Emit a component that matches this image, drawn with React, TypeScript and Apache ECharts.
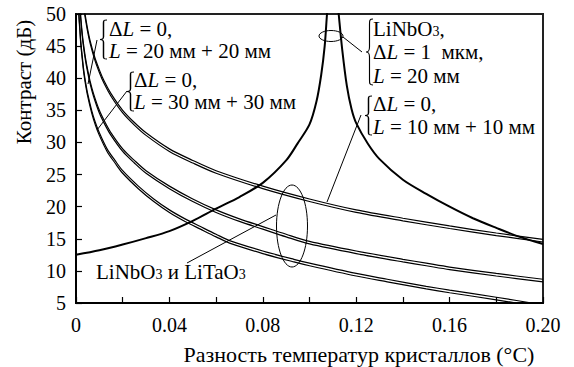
import React, { useEffect, useRef } from "react";
import * as echarts from "echarts";

const FONT = "'Liberation Serif', 'Times New Roman', Times, 'DejaVu Serif', serif";

// Tick labels
const xTickLabels = ["0", "0.04", "0.08", "0.12", "0.16", "0.20"];
const yTickLabels = ["5", "10", "15", "20", "25", "30", "35", "40", "45", "50"];

// ΔL = 0, L = 10 мм + 10 мм (LiNbO3 / LiTaO3)
const x1 = [0.0035, 0.004, 0.005, 0.006, 0.008, 0.01, 0.012, 0.015, 0.02, 0.025, 0.03, 0.04, 0.05, 0.06, 0.08, 0.1, 0.12, 0.14, 0.16, 0.18, 0.2];
const nb1 = [50.9, 49.7, 47.6, 45.9, 43.3, 41.3, 39.6, 37.6, 35.0, 33.1, 31.5, 29.0, 27.2, 25.6, 23.2, 21.2, 19.5, 18.2, 17.0, 15.9, 14.9];
const ta1 = [50.5, 49.3, 47.2, 45.5, 42.9, 40.9, 39.2, 37.2, 34.6, 32.7, 31.1, 28.6, 26.8, 25.2, 22.8, 20.8, 19.1, 17.8, 16.6, 15.5, 14.5];

// ΔL = 0, L = 20 мм + 20 мм
const x2 = [0.00175, 0.002, 0.0025, 0.003, 0.004, 0.005, 0.006, 0.0075, 0.01, 0.0125, 0.015, 0.02, 0.025, 0.03, 0.04, 0.05, 0.06, 0.07, 0.08, 0.09, 0.1, 0.12, 0.14, 0.15, 0.16, 0.18, 0.2];
const nb2 = [50.9, 49.7, 47.6, 45.9, 43.3, 41.3, 39.6, 37.6, 35.0, 33.1, 31.5, 29.0, 27.2, 25.6, 23.2, 21.2, 19.5, 18.1, 16.9, 15.7, 14.6, 13.1, 11.8, 11.2, 10.6, 9.6, 8.7];
const ta2 = [50.5, 49.3, 47.2, 45.5, 42.9, 40.9, 39.2, 37.2, 34.6, 32.7, 31.1, 28.6, 26.8, 25.2, 22.8, 20.8, 19.1, 17.7, 16.5, 15.3, 14.2, 12.7, 11.4, 10.8, 10.2, 9.2, 8.3];

// ΔL = 0, L = 30 мм + 30 мм
const x3 = [0.0012, 0.0013, 0.0017, 0.002, 0.0027, 0.0033, 0.004, 0.005, 0.0067, 0.0083, 0.01, 0.0133, 0.0167, 0.02, 0.0267, 0.0333, 0.04, 0.0467, 0.0533, 0.06, 0.0667, 0.08, 0.0933, 0.1, 0.12, 0.1333, 0.15, 0.16, 0.18, 0.2];
const nb3 = [50.9, 49.7, 47.6, 45.9, 43.3, 41.3, 39.6, 37.6, 35.0, 33.1, 31.5, 29.0, 27.2, 25.6, 23.2, 21.2, 19.5, 18.1, 16.9, 15.7, 14.6, 13.1, 11.8, 11.2, 9.6, 8.7, 7.6, 7.0, 5.9, 4.7];
const ta3 = [50.5, 49.3, 47.2, 45.5, 42.9, 40.9, 39.2, 37.2, 34.6, 32.7, 31.1, 28.6, 26.8, 25.2, 22.8, 20.8, 19.1, 17.7, 16.5, 15.3, 14.2, 12.7, 11.4, 10.8, 9.2, 8.3, 7.2, 6.6, 5.5, 4.3];

// LiNbO3, ΔL = 1 мкм, L = 20 мм (resonance peak)
const peakLeftX = [0, 0.01, 0.02, 0.03, 0.04, 0.05, 0.06, 0.07, 0.08, 0.09, 0.095, 0.1, 0.103, 0.105, 0.1065, 0.1075, 0.108];
const peakLeftY = [12.5, 13.2, 14.1, 15.1, 16.2, 17.8, 19.7, 21.5, 23.7, 27.2, 29.9, 32.8, 36.4, 40.5, 45, 50, 52];
const peakRightX = [0.112, 0.1125, 0.114, 0.116, 0.118, 0.12, 0.125, 0.13, 0.14, 0.15, 0.16, 0.17, 0.18, 0.19, 0.2];
const peakRightY = [52, 50, 44.5, 38.8, 35.2, 33.0, 29.8, 27.4, 24.2, 22.0, 20.0, 18.2, 16.7, 15.3, 14.2];

const zip = (xs: number[], ys: number[]) => xs.map((x, i) => [x, ys[i]]);

const BRACE_D =
  "M10,0 C5,0 5,2 5,8 L5,42 C5,48 4,50 0,50 C4,50 5,52 5,58 L5,92 C5,98 5,100 10,100";
let braceRegistered = false;

const FS = 21; // annotations
const FT = 20; // tick labels
const FN = 22; // axis names
const rich = {
  i: { fontStyle: "italic", fontSize: FS, fontFamily: FONT, fill: "#000", lineHeight: 18 },
  s: { fontSize: 14, fontFamily: FONT, fill: "#000", verticalAlign: "bottom", lineHeight: 9 },
};

function txt(x: number, y: number, text: string) {
  return {
    type: "text",
    x,
    y,
    style: {
      text,
      fontSize: FS,
      fontFamily: FONT,
      fill: "#000",
      align: "left",
      verticalAlign: "middle",
      lineHeight: 18,
      rich,
    },
  };
}
function brace(x: number, y: number, h: number) {
  return {
    type: "brace",
    x,
    y,
    scaleX: 0.7,
    scaleY: h / 100,
    style: { fill: "none", stroke: "#000", lineWidth: 1.1, strokeNoScale: true },
  };
}
function seg(x1: number, y1: number, x2: number, y2: number) {
  return {
    type: "line",
    shape: { x1, y1, x2, y2 },
    style: { stroke: "#000", lineWidth: 1 },
  };
}
function ell(cx: number, cy: number, rx: number, ry: number) {
  return {
    type: "ellipse",
    shape: { cx, cy, rx, ry },
    style: { fill: "none", stroke: "#000", lineWidth: 1 },
  };
}

export default function App() {
  const ref = useRef<HTMLDivElement>(null);
  useEffect(() => {
    if (!ref.current) return;
    if (!braceRegistered) {
      echarts.graphic.registerShape("brace", echarts.graphic.extendPath(BRACE_D, {}));
      braceRegistered = true;
    }
    const chart = echarts.init(ref.current, undefined, { renderer: "svg" });
    const pairLine = (data: number[][]) => ({
      type: "line",
      data,
      showSymbol: false,
      smooth: 0.3,
      clip: true,
      lineStyle: { color: "#000", width: 1.2 },
      silent: true,
    });
    const peakLine = (data: number[][]) => ({
      type: "line",
      data,
      showSymbol: false,
      smooth: 0.3,
      clip: true,
      lineStyle: { color: "#000", width: 2 },
      silent: true,
    });
    chart.setOption({
      animation: false,
      textStyle: { fontFamily: FONT },
      grid: {
        left: 76,
        top: 14,
        right: 31,
        bottom: 64,
        show: true,
        borderColor: "#222",
        borderWidth: 2,
        backgroundColor: "transparent",
      },
      xAxis: {
        type: "value",
        min: 0,
        max: 0.2,
        interval: 0.02,
        splitLine: { show: false },
        axisLine: { lineStyle: { color: "#000", width: 2 } },
        axisTick: { inside: true, length: 6, lineStyle: { color: "#000", width: 1.2 } },
        axisLabel: {
          color: "#000",
          fontFamily: FONT,
          fontSize: FT,
          margin: 12,
          formatter: (v: number) => {
            const k = Math.round(v / 0.02);
            return k % 2 === 0 ? xTickLabels[k / 2] : "";
          },
        },
      },
      yAxis: {
        type: "value",
        min: 5,
        max: 50,
        interval: 5,
        splitLine: { show: false },
        axisLine: { lineStyle: { color: "#000", width: 2 } },
        axisTick: { inside: true, length: 6, lineStyle: { color: "#000", width: 1.2 } },
        axisLabel: {
          color: "#000",
          fontFamily: FONT,
          fontSize: FT,
          margin: 10,
          formatter: (v: number) => yTickLabels[Math.round((v - 5) / 5)],
        },
      },
      series: [
        pairLine(zip(x1, nb1)),
        pairLine(zip(x1, ta1)),
        pairLine(zip(x2, nb2)),
        pairLine(zip(x2, ta2)),
        pairLine(zip(x3, nb3)),
        pairLine(zip(x3, ta3)),
        peakLine(zip(peakLeftX, peakLeftY)),
        peakLine(zip(peakRightX, peakRightY)),
      ],
      graphic: [
        {
          type: "text",
          x: 24,
          y: 82,
          rotation: Math.PI / 2,
          style: {
            text: "Контраст (дБ)",
            fontSize: 21,
            fontFamily: FONT,
            fill: "#000",
            align: "center",
            verticalAlign: "middle",
          },
        },
        {
          type: "text",
          x: 359,
          y: 354,
          style: {
            text: "Разность температур кристаллов (°C)",
            fontSize: FN,
            fontFamily: FONT,
            fill: "#000",
            align: "center",
            verticalAlign: "middle",
          },
        },
        brace(100, 20, 39),
        txt(109, 29, "Δ{i|L} = 0,"),
        txt(109, 51, "{i|L} = 20 мм + 20 мм"),
        seg(97, 40, 88, 84),
        brace(127, 72, 39),
        txt(134, 80, "Δ{i|L} = 0,"),
        txt(134, 102, "{i|L} = 30 мм + 30 мм"),
        seg(127, 91, 97, 130),
        brace(366, 19, 66),
        txt(373, 29, "LiNbO{s|3},"),
        txt(373, 52, "Δ{i|L} = 1  мкм,"),
        txt(373, 76, "{i|L} = 20 мм"),
        ell(331, 36, 12, 5.5),
        seg(343, 37, 362, 52),
        brace(365, 96, 39),
        txt(373, 104, "Δ{i|L} = 0,"),
        txt(373, 127, "{i|L} = 10 мм + 10 мм"),
        seg(361, 115, 327, 202),
        ell(292, 226, 15.5, 41),
        seg(276, 215, 187, 263),
        txt(96, 272, "LiNbO{s|3} и LiTaO{s|3}"),
      ],
    });
    return () => chart.dispose();
  }, []);
  return (
    <div
      ref={ref}
      style={{ position: "absolute", left: 0, top: 0, width: 574, height: 367 }}
    />
  );
}
